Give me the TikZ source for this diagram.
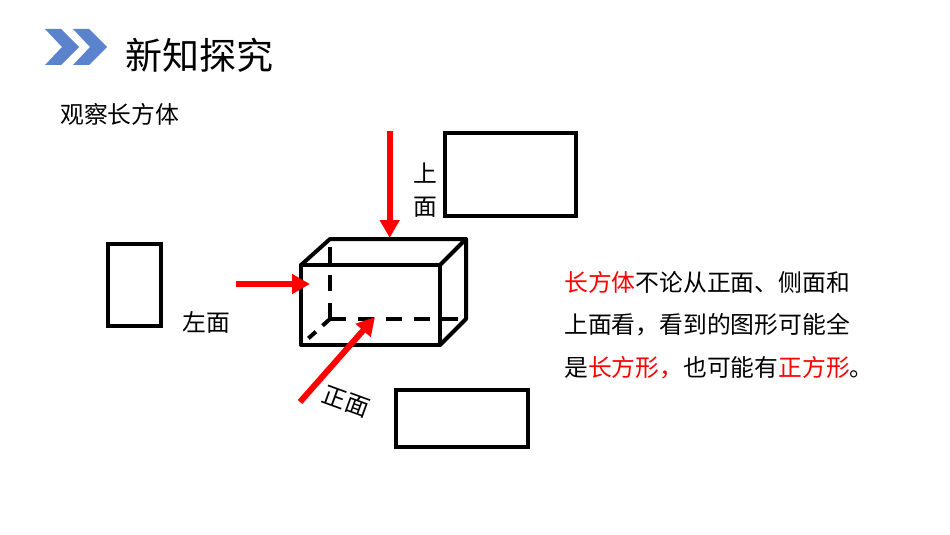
\documentclass[tikz,border=0pt]{standalone}
\usepackage{fontspec}
\setmainfont{Noto Sans CJK SC}
\usetikzlibrary{arrows.meta}
\definecolor{chevronblue}{RGB}{91,130,205}
\definecolor{viewred}{RGB}{255,0,0}
\tikzset{%
  every view/.style={
    draw,
    line width=4pt,
    line join=miter,
    inner sep=0pt
  },
  edge solid/.style={
    line width=4pt,
    line join=round,
    line cap=round
  },
  edge hidden/.style={
    line width=4pt,
    dash pattern=on 16pt off 12pt
  },
  view arrow/.style={
    draw=viewred,
    line width=6pt,
    -{Triangle[length=18pt,width=19pt,inset=0pt]}
  },
  label/.style={
    inner sep=0pt,
    font=\fontsize{23.8}{28}\selectfont
  },
}
\begin{document}
\begin{tikzpicture}[x=1pt, y=-1pt]
  \useasboundingbox (0,0) rectangle (950,535);

  % heading
  \foreach \x [count=\i] in {0,28}
    \fill [chevronblue] (45+\x,29) -- (61+\x,29) -- (79+\x,47) -- (61+\x,65) -- (45+\x,65) -- (62+\x,47) -- cycle;
  \node [label, anchor=west, font=\fontsize{37}{44}\selectfont] (title) at (125,55) {新知探究};
  \node [label, anchor=west] (intro) at (60,114) {观察长方体};

  % corners of the box
  \foreach \n/\x/\y in {fa/301/265, fb/440/265, fc/440/345, fd/301/345,
                        ba/330/239, bb/466/239, bc/466/319, bd/330/319}
    \coordinate (\n) at (\x,\y);

  \draw [edge hidden] (bd) -- (ba);
  \draw [edge hidden] (bd) -- (bc);
  \draw [edge hidden, dash pattern=on 10pt off 9pt] (bd) -- (fd);
  \draw [edge solid] (fa) -- (fb) -- (fc) -- (fd) -- cycle;
  \draw [edge solid] (fa) -- (ba) -- (bb) -- (fb);
  \draw [edge solid] (bb) -- (bc) -- (fc);

  % the three views
  \node [every view, minimum width=131.6pt, minimum height=82.7pt] (view-top) at (510.5,174.4) {};
  \node [every view, minimum width=53pt, minimum height=82pt] (view-left) at (134.2,285.3) {};
  \node [every view, minimum width=131.7pt, minimum height=57pt] (view-front) at (462.2,418.5) {};

  % viewing directions
  \coordinate (from-top) at (389.7,131);
  \coordinate (to-top) at (389.7,238);
  \coordinate (from-left) at (236,284);
  \coordinate (to-left) at (310,284);
  \coordinate (from-front) at (300,402);
  \coordinate (to-front) at (375,317);
  \foreach \n in {top,left,front}
    \draw [view arrow] (from-\n) -- (to-\n);

  \node [label] (top-a) at (425,173) {上};
  \node [label] (top-b) at (425,207) {面};
  \node [label] (left-label) at (206,322) {左面};
  \node [label, rotate=-20] (front-label) at (346,402) {正面};

  % remark
  \node [label, anchor=west] (line-a) at (564,282) {\textcolor{viewred}{长方体}不论从正面、侧面和};
  \node [label, anchor=west] (line-b) at (564,325) {上面看，看到的图形可能全};
  \node [label, anchor=west] (line-c) at (564,368) {是\textcolor{viewred}{长方形，}也可能有\textcolor{viewred}{正方形}。};
\end{tikzpicture}
\end{document}
